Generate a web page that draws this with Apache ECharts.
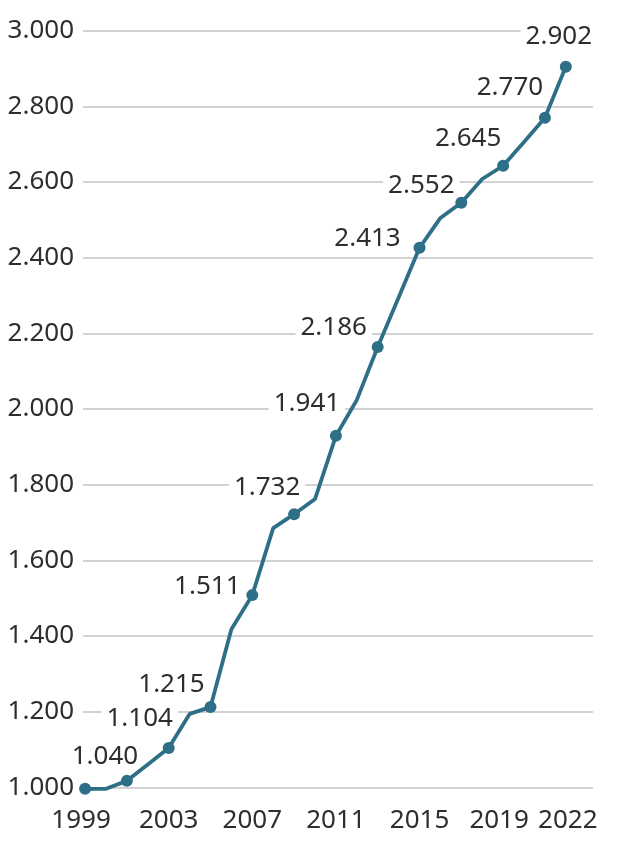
<!DOCTYPE html>
<html>
<head>
<meta charset="utf-8">
<script src="https://cdn.jsdelivr.net/npm/echarts@6/dist/echarts.min.js"></script>
<style>
  html, body { margin: 0; padding: 0; background: #ffffff; }
  #chart { width: 628px; height: 849px; }
</style>
</head>
<body>
<div id="chart"></div>
<script>
// ---- data ----
const years = [1999, 2000, 2001, 2002, 2003, 2004, 2005, 2006, 2007, 2008, 2009, 2010,
               2011, 2012, 2013, 2014, 2015, 2016, 2017, 2018, 2019, 2020, 2021, 2022];
const values = [996, 996, 1017, 1060, 1104, 1194, 1212, 1418, 1508, 1685, 1722, 1762,
                1929, 2024, 2164, 2295, 2426, 2505, 2545, 2608, 2643, 2706, 2770, 2905];
const markedYears = [1999, 2001, 2003, 2005, 2007, 2009, 2011, 2013, 2015, 2017, 2019, 2021, 2022];
const labelYears = [2001, 2003, 2005, 2007, 2009, 2011, 2013, 2015, 2017, 2019, 2021, 2022];
const labelTexts = ['1.040', '1.104', '1.215', '1.511', '1.732', '1.941', '2.186', '2.413', '2.552', '2.645', '2.770', '2.902'];
const xTickLabels = [1999, 2003, 2007, 2011, 2015, 2019, 2022];

// ---- layout (label offsets relative to marker centre, x-label nudges) ----
const labelOffsets = [[-22, -24], [-29, -29], [-39, -23], [-45, -9], [-27, -27], [-29, -32],
                      [-44, -19], [-52, -9], [-40, -17], [-35, -27], [-35, -30], [-7, -30]];
const xLabelNudge = { 1999: 'l', 2019: 'l', 2022: 'r' };

const FONT = '"Noto Sans", "Liberation Sans", sans-serif';
const TEXT = '#2e2e2e';
const LINE = '#2d6f86';

function fmt(v) {
  return String(v).replace(/\B(?=(\d{3})+(?!\d))/g, '.');
}

const lineData = years.map((y, i) => ({
  value: [y, values[i]],
  symbolSize: markedYears.indexOf(y) >= 0 ? 12 : 0
}));

const labelData = labelYears.map((y, i) => ({
  value: [y, values[years.indexOf(y)]],
  label: { offset: labelOffsets[i], formatter: labelTexts[i] }
}));

const chart = echarts.init(document.getElementById('chart'), null, { renderer: 'canvas' });
chart.setOption({
  backgroundColor: '#ffffff',
  animation: false,
  grid: { left: 83, right: 35, top: 30.7, bottom: 61.7, containLabel: false },
  xAxis: {
    type: 'value',
    min: 1998.9,
    max: 2023.3,
    axisLine: { show: false },
    axisTick: { show: false },
    splitLine: { show: false },
    axisLabel: {
      customValues: xTickLabels,
      formatter: v => {
        const n = xLabelNudge[v];
        if (n === 'l') return '{l|' + v + '}';
        if (n === 'r') return '{r|' + v + '}';
        return '{n|' + v + '}';
      },
      color: TEXT,
      fontFamily: FONT,
      fontSize: 26,
      margin: 20,
      rich: {
        n: { color: TEXT, fontFamily: FONT, fontSize: 26 },
        l: { color: TEXT, fontFamily: FONT, fontSize: 26, padding: [0, 8, 0, 0] },
        r: { color: TEXT, fontFamily: FONT, fontSize: 26, padding: [0, 0, 0, 4] }
      }
    }
  },
  yAxis: {
    type: 'value',
    min: 1000,
    max: 3000,
    interval: 200,
    axisLine: { show: false },
    axisTick: { show: false },
    splitLine: { show: true, lineStyle: { color: '#d2d2d2', width: 2 } },
    axisLabel: {
      formatter: v => fmt(v),
      color: TEXT,
      fontFamily: FONT,
      fontSize: 26,
      margin: 9
    }
  },
  series: [
    {
      type: 'scatter',
      data: labelData,
      symbolSize: 1,
      itemStyle: { color: 'rgba(0,0,0,0)', opacity: 1 },
      silent: true,
      z: 2,
      label: {
        show: true,
        position: 'inside',
        align: 'center',
        verticalAlign: 'middle',
        color: TEXT,
        opacity: 1,
        fontFamily: FONT,
        fontSize: 26,
        backgroundColor: '#ffffff',
        padding: [0, 5, 0, 5]
      }
    },
    {
      type: 'line',
      data: lineData,
      symbol: 'circle',
      showAllSymbol: true,
      clip: false,
      lineStyle: { color: LINE, width: 3.8 },
      itemStyle: { color: LINE },
      label: { show: false },
      z: 5
    }
  ]
});
</script>
</body>
</html>
